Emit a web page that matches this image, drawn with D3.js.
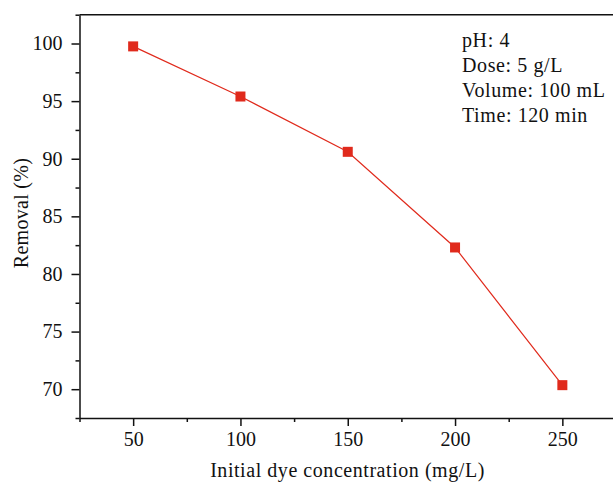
<!DOCTYPE html>
<html>
<head>
<meta charset="utf-8">
<script src="https://cdn.jsdelivr.net/npm/d3@7"></script>
<style>
  html, body { margin: 0; padding: 0; background: #fff; }
  svg { display: block; }
  text { font-family: "Liberation Serif", "Times New Roman", serif; fill: #111; }
</style>
</head>
<body>
<svg id="chart" width="613" height="484"></svg>
<script>
// Removal efficiency vs. initial dye concentration
const concentrations = [50, 100, 150, 200, 250];
const removal = [99.75, 95.4, 90.6, 82.3, 70.35];
const xTicks = [50, 100, 150, 200, 250];
const yTicks = [70, 75, 80, 85, 90, 95, 100];
const conditions = ["pH: 4", "Dose: 5 g/L", "Volume: 100 mL", "Time: 120 min"];

const svg = d3.select("#chart");
const plotLeft = 79.5, plotRight = 616, plotTop = 14.7, plotBottom = 418;

const x = d3.scaleLinear().domain([25, 275]).range([plotLeft, plotRight]);
const y = d3.scaleLinear().domain([67.5, 102.5]).range([plotBottom, plotTop]);

const red = "#e02a1c";
const fontSize = 20;

// minor ticks
const xMinor = d3.range(25, 276, 50);
const yMinor = d3.range(67.5, 102.6, 5);

svg.append("g").attr("transform", `translate(0,${plotBottom})`)
  .call(d3.axisBottom(x).tickValues(xTicks).tickSize(8).tickPadding(6).tickSizeOuter(0));
svg.append("g").attr("transform", `translate(0,${plotBottom})`)
  .call(d3.axisBottom(x).tickValues(xMinor).tickSize(4).tickFormat("").tickSizeOuter(0))
  .select(".domain").remove();

svg.append("g").attr("transform", `translate(${plotLeft},0)`)
  .call(d3.axisLeft(y).tickValues(yTicks).tickSize(8).tickPadding(9).tickSizeOuter(0));
svg.append("g").attr("transform", `translate(${plotLeft},0)`)
  .call(d3.axisLeft(y).tickValues(yMinor).tickSize(4).tickFormat("").tickSizeOuter(0))
  .select(".domain").remove();

svg.selectAll(".domain, .tick line").attr("stroke", "#111").attr("stroke-width", 1.5);
svg.selectAll(".tick text")
  .attr("font-family", "Liberation Serif, Times New Roman, serif")
  .attr("font-size", fontSize).attr("fill", "#111");

// top frame line
svg.append("line")
  .attr("x1", plotLeft).attr("x2", plotRight).attr("y1", plotTop).attr("y2", plotTop)
  .attr("stroke", "#111").attr("stroke-width", 1.5);

// series line and markers
const line = d3.line().x((d, i) => x(concentrations[i])).y(d => y(d));
svg.append("path").datum(removal)
  .attr("d", line).attr("fill", "none")
  .attr("stroke", red).attr("stroke-width", 1.2);

const ms = 10;
svg.selectAll("rect.pt").data(removal).join("rect")
  .attr("class", "pt")
  .attr("x", (d, i) => x(concentrations[i]) - ms / 2)
  .attr("y", d => y(d) - ms / 2)
  .attr("width", ms).attr("height", ms)
  .attr("fill", red);

// axis titles
svg.append("text")
  .attr("x", (210 + 485) / 2).attr("y", 477)
  .attr("text-anchor", "middle").attr("font-size", fontSize)
  .attr("letter-spacing", 0.55)
  .text("Initial dye concentration (mg/L)");

svg.append("text")
  .attr("transform", `translate(28,213) rotate(-90)`)
  .attr("text-anchor", "middle").attr("font-size", fontSize)
  .attr("letter-spacing", 0.3)
  .text("Removal (%)");

// experimental conditions
svg.append("g").selectAll("text").data(conditions).join("text")
  .attr("x", 462).attr("y", (d, i) => 47 + i * 25)
  .attr("font-size", fontSize)
  .attr("letter-spacing", 0.6)
  .text(d => d);
</script>
</body>
</html>
